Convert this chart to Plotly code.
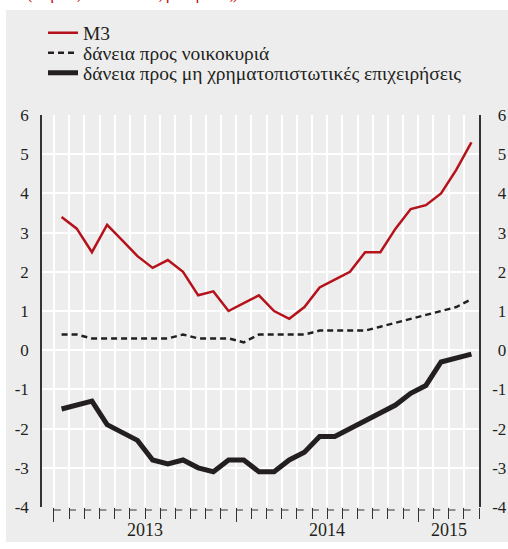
import plotly.graph_objects as go

months = ["Ιαν 13","Φεβ 13","Μαρ 13","Απρ 13","Μαϊ 13","Ιουν 13","Ιουλ 13","Αυγ 13","Σεπ 13","Οκτ 13","Νοε 13","Δεκ 13",
          "Ιαν 14","Φεβ 14","Μαρ 14","Απρ 14","Μαϊ 14","Ιουν 14","Ιουλ 14","Αυγ 14","Σεπ 14","Οκτ 14","Νοε 14","Δεκ 14",
          "Ιαν 15","Φεβ 15","Μαρ 15","Απρ 15"]
m3 = [3.4, 3.1, 2.5, 3.2, 2.8, 2.4, 2.1, 2.3, 2.0, 1.4, 1.5, 1.0,
      1.2, 1.4, 1.0, 0.8, 1.1, 1.6, 1.8, 2.0, 2.5, 2.5, 3.1, 3.6,
      3.7, 4.0, 4.6, 5.3]
households = [0.4, 0.4, 0.3, 0.3, 0.3, 0.3, 0.3, 0.3, 0.4, 0.3, 0.3, 0.3,
              0.2, 0.4, 0.4, 0.4, 0.4, 0.5, 0.5, 0.5, 0.5, 0.6, 0.7, 0.8,
              0.9, 1.0, 1.1, 1.3]
nfc = [-1.5, -1.4, -1.3, -1.9, -2.1, -2.3, -2.8, -2.9, -2.8, -3.0, -3.1, -2.8,
       -2.8, -3.1, -3.1, -2.8, -2.6, -2.2, -2.2, -2.0, -1.8, -1.6, -1.4, -1.1,
       -0.9, -0.3, -0.2, -0.1]
years = ["2013", "2014", "2015"]
year_start = [0, 12, 24]
year_len = [12, 12, 4]
y_ticks = [-4, -3, -2, -1, 0, 1, 2, 3, 4, 5, 6]
y_ticktext = ["-4", "-3", "-2", "-1", "0", "1", "2", "3", "4", "5", "6"]
series_names = ["M3", "δάνεια προς νοικοκυριά", "δάνεια προς μη χρηματοπιστωτικές επιχειρήσεις"]
subtitle = "(ετήσιες ποσοστιαίες μεταβολές)"

FONT = "Liberation Serif, Times New Roman, DejaVu Serif, serif"
TXT = "#231f20"
RED = "#b5121b"
BLK = "#231f20"
BG = "#ededed"

x = list(range(len(months)))
XMIN, XMAX = -1.29, len(months) - 0.5
YMIN, YMAX = -4, 6

fig = go.Figure()
fig.add_trace(go.Scatter(x=x, y=m3, name=series_names[0], mode="lines", legend="legend",
                         line=dict(color=RED, width=2.5)))
fig.add_trace(go.Scatter(x=x, y=households, name=series_names[1], mode="lines", legend="legend2",
                         line=dict(color=BLK, width=2.5, dash="6px,4px")))
fig.add_trace(go.Scatter(x=x, y=nfc, name=series_names[2], mode="lines", legend="legend3",
                         line=dict(color=BLK, width=5)))
# invisible trace to activate the right axis
fig.add_trace(go.Scatter(x=[x[0]], y=[0], yaxis="y2", showlegend=False,
                         mode="markers", marker=dict(opacity=0), hoverinfo="skip"))

boundaries = [i - 0.5 for i in range(len(months) + 1)]
year_bounds = [s - 0.5 for s in year_start]

# right-hand labels are right-aligned in the reference: pad non-negative ones
right_ticktext = [t if t.startswith("-") else '<span style="color:rgba(0,0,0,0)">-</span>' + t
                  for t in y_ticktext]

def px_paper(v):
    return (v - XMIN) / (XMAX - XMIN)

shapes = []
shapes.append(dict(type="rect", xref="paper", yref="paper",
                   x0=(6 - 42) / 437, x1=(510 - 42) / 437,
                   y0=(507 - 542) / 392, y1=(507 - 10) / 392,
                   fillcolor=BG, line=dict(width=0), layer="below"))
shapes.append(dict(type="line", xref="paper", yref="y", x0=0, x1=1, y0=0, y1=0,
                   line=dict(color="#808080", width=1.5), layer="below"))
for b in boundaries[:-1]:
    shapes.append(dict(type="line", xref="paper", yref="paper",
                       x0=px_paper(b), x1=px_paper(b + 0.45),
                       y0=-3 / 392, y1=-3 / 392,
                       line=dict(color="#333333", width=1)))

annotations = []
for name, s, n in zip(years, year_start, year_len):
    annotations.append(dict(x=s - 0.5 + n / 2, y=-4, xref="x", yref="y",
                            text=name, showarrow=False, yanchor="top", yshift=-11,
                            font=dict(family=FONT, size=18, color=TXT)))
annotations.append(dict(x=(25 - 42) / 437, y=(507 - 5) / 392, xref="paper", yref="paper",
                        text=subtitle, showarrow=False, xanchor="left", yanchor="bottom",
                        font=dict(family=FONT, size=16, color="#c00000")))

def leg(ypx):
    return dict(x=(43 - 42) / 437, y=(507 - ypx) / 392, xanchor="left", yanchor="middle",
                bgcolor="rgba(0,0,0,0)", borderwidth=0,
                font=dict(family=FONT, size=19.5, color=TXT), itemwidth=30)

fig.update_layout(
    width=508, height=549,
    margin=dict(l=42, r=29, t=115, b=42, pad=0, autoexpand=False),
    paper_bgcolor="white", plot_bgcolor=BG,
    font=dict(family=FONT, size=16, color=TXT),
    showlegend=True,
    legend=leg(33), legend2=leg(53), legend3=leg(73),
    xaxis=dict(range=[XMIN, XMAX], tickvals=year_bounds, showticklabels=False,
               ticks="outside", ticklen=14, tickcolor="#333333", tickwidth=1,
               showgrid=True, gridcolor="white", gridwidth=1.5,
               minor=dict(tickvals=boundaries, ticks="outside", ticklen=11,
                          tickcolor="#333333", tickwidth=1, showgrid=True,
                          gridcolor="white", gridwidth=1.5),
               showline=False, zeroline=False),
    yaxis=dict(range=[YMIN, YMAX], tickvals=y_ticks, ticktext=y_ticktext,
               ticks="outside", ticklen=8, tickcolor="rgba(0,0,0,0)",
               showgrid=True, gridcolor="white", gridwidth=1.5,
               showline=True, linecolor="#333333", linewidth=1.5, zeroline=False,
               tickfont=dict(family=FONT, size=17, color=TXT)),
    yaxis2=dict(range=[YMIN, YMAX], tickvals=y_ticks, ticktext=right_ticktext,
                ticks="outside", ticklen=8, tickcolor="rgba(0,0,0,0)",
                overlaying="y", side="right", showgrid=False,
                showline=True, linecolor="#333333", linewidth=1.5, zeroline=False,
                tickfont=dict(family=FONT, size=17, color=TXT)),
    shapes=shapes, annotations=annotations,
)
fig.write_html("out.html", config={"displayModeBar": False},
               post_script="document.body.style.margin='0';document.body.style.overflow='hidden';")
